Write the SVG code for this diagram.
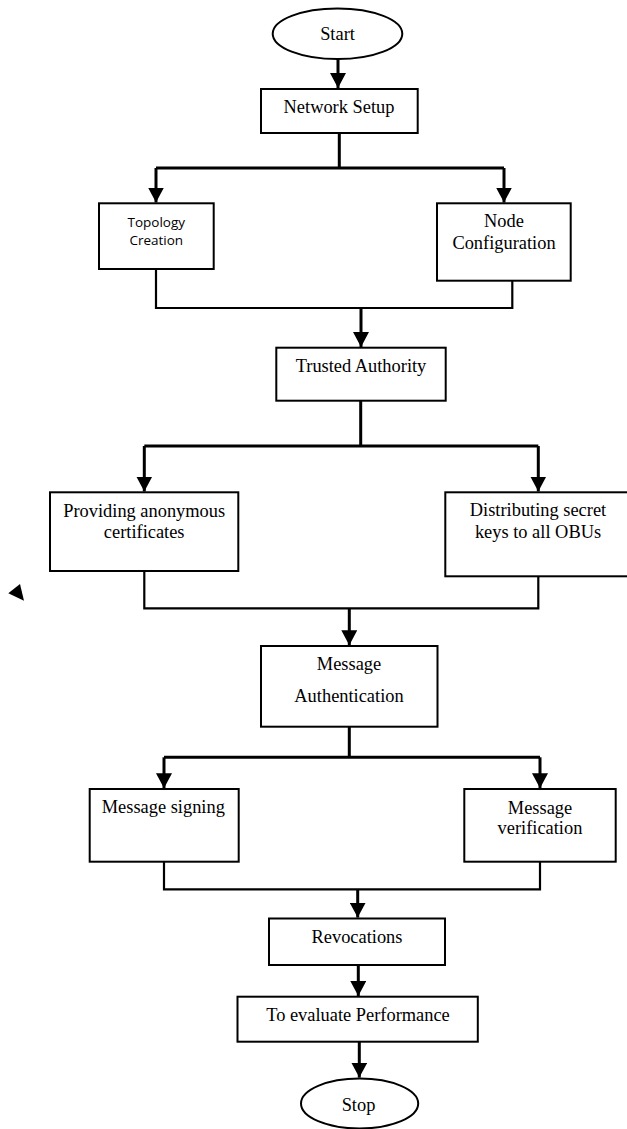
<svg xmlns="http://www.w3.org/2000/svg" width="627" height="1129" viewBox="0 0 627 1129">
<style>
.box{fill:#fff;stroke:#000;stroke-width:2}
.t{font-family:"Liberation Serif","Times New Roman",serif;font-size:18.4px;fill:#000;text-anchor:middle}
.s{font-family:"Open Sans","Liberation Sans",sans-serif;font-size:13.5px;fill:#000;text-anchor:middle}
.br{fill:none;stroke:#000;stroke-width:3}
.jn{fill:none;stroke:#000;stroke-width:2.2}
</style>
<defs>
<marker id="ah" markerUnits="userSpaceOnUse" markerWidth="16" markerHeight="16" refX="15" refY="8" orient="auto">
<path d="M0,0 L15,8 L0,16 Z" fill="#000"/>
</marker>
</defs>
<rect width="627" height="1129" fill="#fff"/>
<g id="connectors">
<path class="br" d="M338,59 V88" marker-end="url(#ah)"/>
<path class="br" d="M339.3,133 V168 M156,168 H504"/>
<path class="br" d="M156,168 V202.5" marker-end="url(#ah)"/>
<path class="br" d="M504,168 V202.5" marker-end="url(#ah)"/>
<path class="jn" d="M156,269 V308 H512.3 V280.7"/>
<path class="br" d="M361,308 V347" marker-end="url(#ah)"/>
<path class="br" d="M360.7,400.7 V446 M144.3,446 H538.3"/>
<path class="br" d="M144.3,446 V491.5" marker-end="url(#ah)"/>
<path class="br" d="M538.3,446 V491.5" marker-end="url(#ah)"/>
<path class="jn" d="M144.3,571 V608.3 H538.3 V576.3"/>
<path class="br" d="M349.3,608.3 V645.3" marker-end="url(#ah)"/>
<path class="br" d="M349.3,726.7 V757.3 M164,757.3 H540"/>
<path class="br" d="M164,757.3 V788.3" marker-end="url(#ah)"/>
<path class="br" d="M540,757.3 V788.3" marker-end="url(#ah)"/>
<path class="jn" d="M164,861.7 V889.3 H540 V861.7"/>
<path class="br" d="M357.7,889.3 V917.6" marker-end="url(#ah)"/>
<path class="br" d="M358.3,965 V996" marker-end="url(#ah)"/>
<path class="br" d="M359.3,1041.7 V1077.6" marker-end="url(#ah)"/>
</g>
<g id="start">
<ellipse class="box" cx="337.5" cy="33.7" rx="64.8" ry="25.3"/>
<text class="t" x="337.5" y="39.5">Start</text>
</g>
<g id="network-setup">
<rect class="box" x="261" y="89" width="156.7" height="44"/>
<text class="t" x="339" y="113.3">Network Setup</text>
</g>
<g id="topology-creation">
<rect class="box" x="99" y="203.3" width="114.7" height="65.7"/>
<text class="s" x="156.3" y="226.5">Topology</text>
<text class="s" x="156.3" y="245">Creation</text>
</g>
<g id="node-configuration">
<rect class="box" x="437" y="203.3" width="133.7" height="77.4"/>
<text class="t" x="504" y="227">Node</text>
<text class="t" x="504" y="249.3">Configuration</text>
</g>
<g id="trusted-authority">
<rect class="box" x="276.3" y="347.7" width="169.4" height="53"/>
<text class="t" x="361" y="372">Trusted Authority</text>
</g>
<g id="providing-certificates">
<rect class="box" x="50" y="492.3" width="188.3" height="78.7"/>
<text class="t" x="144.2" y="516.7">Providing anonymous</text>
<text class="t" x="144.2" y="538.3">certificates</text>
</g>
<g id="distributing-keys">
<rect class="box" x="445.3" y="492.3" width="184" height="84"/>
<text class="t" x="538" y="516">Distributing secret</text>
<text class="t" x="538" y="537.7">keys to all OBUs</text>
</g>
<g id="message-authentication">
<rect class="box" x="261" y="646" width="176.5" height="80.7"/>
<text class="t" x="349" y="670">Message</text>
<text class="t" x="349" y="702.3">Authentication</text>
</g>
<g id="message-signing">
<rect class="box" x="89.7" y="789" width="149" height="72.7"/>
<text class="t" x="163.3" y="813.3">Message signing</text>
</g>
<g id="message-verification">
<rect class="box" x="464.3" y="789" width="151.4" height="72.7"/>
<text class="t" x="540" y="814">Message</text>
<text class="t" x="540" y="834.3">verification</text>
</g>
<g id="revocations">
<rect class="box" x="269" y="918.5" width="176" height="46.5"/>
<text class="t" x="357" y="943.3">Revocations</text>
</g>
<g id="evaluate-performance">
<rect class="box" x="237.5" y="996.7" width="240.3" height="45"/>
<text class="t" x="358" y="1021.3">To evaluate Performance</text>
</g>
<g id="stop">
<ellipse class="box" cx="359.6" cy="1103.5" rx="58.6" ry="25"/>
<text class="t" x="358.5" y="1110.5">Stop</text>
</g>
<polygon points="8.3,593.3 20,584 24,600.7" fill="#000"/>
</svg>
